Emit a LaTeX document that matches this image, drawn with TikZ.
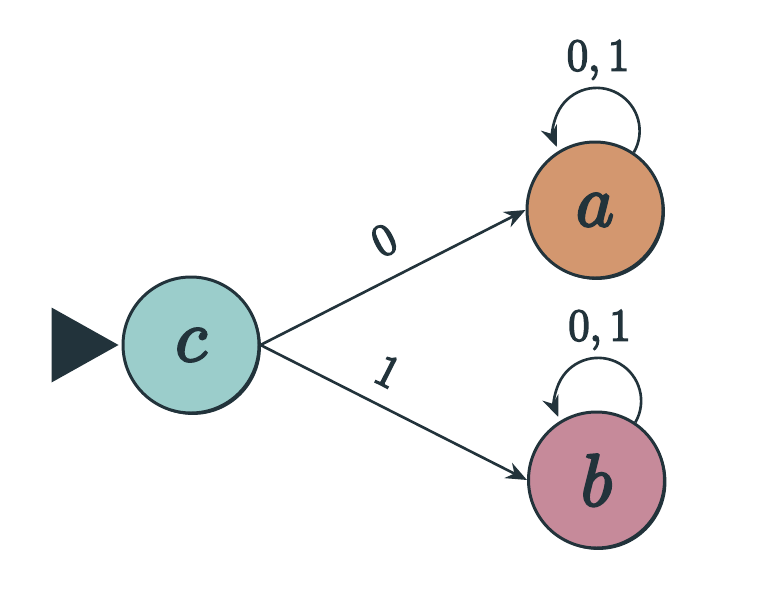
\documentclass[tikz,border=0pt]{standalone}
\usepackage{fix-cm}
\usetikzlibrary{arrows.meta,shadows}
\definecolor{ink}{HTML}{22333B}
\definecolor{cfill}{HTML}{9BCDCB}
\definecolor{afill}{HTML}{D3976F}
\definecolor{bfill}{HTML}{C68A9A}
\newcommand{\heavy}[2]{\special{pdf:code 2 Tr #1 w}#2\special{pdf:code 0 Tr}}
\tikzset{
 state/.style={circle,draw=ink,line width=1.7pt,minimum size=2.72cm,inner sep=0pt,
             text=ink,font=\fontsize{42}{50}\selectfont,
             drop shadow={shadow xshift=1.1pt,shadow yshift=-1.1pt,fill=ink,opacity=1}},
 arrow/.style={-{Stealth[length=4.2mm,width=3.4mm]},line width=1.5pt,draw=ink},
 lbl/.style={text=ink,font=\fontsize{26}{31}\selectfont}
}
\begin{document}
\begin{tikzpicture}
\useasboundingbox (0,0) rectangle (15.32,12.14);
\node[state,fill=cfill] (c) at (3.82,5.24) {\heavy{1.5}{$c$}};
\node[state,fill=afill] (a) at (11.9,7.94) {\heavy{1.5}{$a$}};
\node[state,fill=bfill] (b) at (11.93,2.54) {\heavy{1.5}{$b$}};
% initial marker
\fill[ink] ([xshift=-0.06cm]c.west) -- ++(-1.34,0.75) -- ++(0,-1.5) -- cycle;
\draw[arrow] (c.east) -- node[lbl,sloped,above,pos=0.53,inner sep=12pt] {\heavy{1.1}{$0$}} (a.west);
\draw[arrow] (c.east) -- node[lbl,sloped,above,pos=0.42,inner sep=10pt] {\heavy{1.1}{$1$}} (b.west);
% self loops
\draw[arrow] (a.56) arc[start angle=-30,end angle=202,radius=0.86cm];
\draw[arrow] (b.56) arc[start angle=-30,end angle=202,radius=0.86cm];
\node[lbl,anchor=base] (aloop) at ([xshift=0.06cm,yshift=1.4cm]a.north) {\heavy{1.1}{$0,1$}};
\node[lbl,anchor=base] (bloop) at ([xshift=0.06cm,yshift=1.4cm]b.north) {\heavy{1.1}{$0,1$}};
\end{tikzpicture}
\end{document}
